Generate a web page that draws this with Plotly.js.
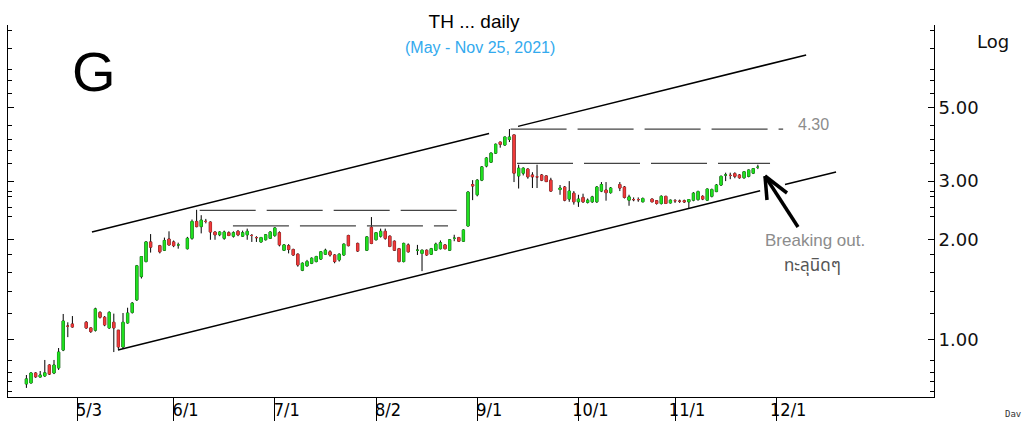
<!DOCTYPE html>
<html>
<head>
<meta charset="utf-8">
<script src="https://cdn.plot.ly/plotly-3.0.1.min.js"></script>
<style>html,body{margin:0;padding:0;background:#fff;}#chart{width:1030px;height:421px;}</style>
</head>
<body>
<div id="chart"></div>
<script>
// Trading days (2021, month-day)
const days = [
 '04-16','04-19','04-20','04-21','04-22','04-23','04-26','04-27','04-28','04-29','04-30',
 '05-05','05-06','05-07','05-10','05-11','05-12','05-13','05-14','05-17','05-18','05-19','05-20','05-21','05-24','05-25','05-27','05-28','05-31',
 '06-01','06-02','06-04','06-07','06-08','06-09','06-10','06-11','06-14','06-15','06-16','06-17','06-18','06-21','06-22','06-23','06-24','06-25','06-28','06-29','06-30',
 '07-01','07-02','07-05','07-06','07-07','07-08','07-09','07-12','07-13','07-14','07-15','07-16','07-19','07-20','07-21','07-22','07-23','07-27','07-29','07-30',
 '08-02','08-03','08-04','08-05','08-06','08-09','08-10','08-11','08-13','08-16','08-17','08-18','08-19','08-20','08-23','08-24','08-25','08-26','08-27','08-30','08-31',
 '09-01','09-02','09-03','09-06','09-07','09-08','09-09','09-10','09-13','09-14','09-15','09-16','09-17','09-20','09-21','09-22','09-23','09-27','09-28','09-29','09-30',
 '10-01','10-04','10-05','10-06','10-07','10-08','10-11','10-12','10-14','10-15','10-18','10-19','10-20','10-21','10-25','10-26','10-27','10-28','10-29',
 '11-01','11-02','11-03','11-04','11-05','11-08','11-09','11-10','11-11','11-12','11-15','11-16','11-17','11-18','11-19','11-22','11-23','11-24','11-25'
];
const openP = [
 .738,.743,.796,.774,.780,.841,.796,.824,.933,1.10,1.117,
 1.13,1.087,1.07,1.21,1.17,1.087,1.13,1.07,0.953,1.125,1.21,1.32,1.55,1.72,1.97,1.92,1.86,2.01,
 1.97,1.93,1.88,2.02,2.27,2.19,2.27,2.26,2.11,2.07,2.02,2.10,2.05,2.12,2.05,2.07,2.06,2.03,1.97,2.00,2.02,
 2.06,2.10,1.86,1.92,1.87,1.81,1.62,1.67,1.70,1.72,1.75,1.81,1.84,1.80,1.74,1.80,2.06,1.95,1.86,2.18,
 2.00,2.05,2.12,2.05,1.98,1.88,1.72,1.93,1.86,1.82,1.86,1.81,1.86,1.88,1.93,1.86,2.02,2.03,1.98,2.20,2.93,
 2.73,3.02,3.33,3.42,3.64,3.93,3.85,4.00,4.13,3.11,3.17,3.26,3.13,3.09,3.13,3.11,3.02,2.83,2.88,2.65,2.76,
 2.60,2.68,2.59,2.60,2.60,2.80,2.82,2.77,2.93,2.88,2.63,2.64,2.64,2.60,2.65,2.62,2.57,2.70,2.58,
 2.62,2.61,2.62,2.60,2.63,2.64,2.70,2.63,2.70,2.79,2.92,3.13,3.12,3.16,3.13,3.07,3.10,3.17,3.30
];
const highP = [
 .785,.800,.800,.807,.871,.845,.871,.946,1.197,1.13,1.18,
 1.14,1.09,1.25,1.22,1.18,1.22,1.20,1.07,1.205,1.25,1.30,1.68,1.78,1.98,2.08,1.93,2.03,2.12,
 1.99,1.96,2.04,2.30,2.46,2.37,2.31,2.27,2.12,2.12,2.13,2.12,2.12,2.14,2.13,2.16,2.08,2.05,2.04,2.08,2.12,
 2.18,2.12,1.94,1.94,1.88,1.82,1.71,1.74,1.77,1.79,1.85,1.88,1.86,1.81,1.82,1.95,2.07,1.96,2.05,2.34,
 2.11,2.16,2.16,2.06,1.99,1.89,1.96,1.95,1.93,1.87,1.87,1.89,1.96,1.99,1.94,2.01,2.07,2.04,2.15,2.80,3.02,
 3.04,3.33,3.54,3.66,3.89,3.94,4.08,4.30,4.13,3.36,3.30,3.28,3.19,3.36,3.15,3.12,3.07,2.92,2.90,3.00,2.80,
 2.73,2.75,2.66,2.71,2.90,2.98,2.98,2.88,2.98,2.90,2.73,2.68,2.68,2.68,2.66,2.63,2.72,2.71,2.64,
 2.65,2.64,2.64,2.65,2.78,2.81,2.72,2.85,2.85,2.94,3.12,3.18,3.18,3.19,3.15,3.21,3.25,3.28,3.36
];
const lowP = [
 .718,.740,.770,.772,.775,.785,.790,.813,.926,1.02,1.09,
 1.08,1.05,1.06,1.16,1.10,1.08,0.92,0.94,0.94,1.12,1.20,1.31,1.53,1.71,1.83,1.82,1.85,1.92,
 1.90,1.88,1.87,2.00,2.18,2.09,2.24,2.00,2.00,2.05,2.00,2.05,2.03,2.05,2.04,2.00,1.97,1.97,1.96,1.99,2.01,
 2.04,1.91,1.85,1.82,1.79,1.66,1.61,1.66,1.69,1.71,1.74,1.80,1.78,1.70,1.72,1.79,1.91,1.84,1.85,1.94,
 1.99,2.03,2.00,1.90,1.85,1.71,1.71,1.83,1.80,1.61,1.79,1.80,1.85,1.87,1.87,1.85,1.98,1.97,1.97,2.19,2.63,
 2.70,3.00,3.30,3.40,3.62,3.78,3.83,3.93,2.98,2.85,3.12,3.05,2.86,2.86,3.00,2.98,2.79,2.73,2.61,2.60,2.55,
 2.51,2.58,2.57,2.58,2.58,2.78,2.62,2.75,2.80,2.66,2.53,2.61,2.60,2.59,2.59,2.55,2.55,2.56,2.57,
 2.58,2.58,2.58,2.49,2.61,2.62,2.63,2.62,2.68,2.78,2.90,3.00,3.04,3.06,3.05,3.05,3.08,3.15,3.26
];
const closeP = [
 .764,.796,.775,.785,.797,.790,.841,.920,1.14,1.10,1.094,
 1.087,1.06,1.24,1.17,1.11,1.21,1.087,0.953,1.13,1.205,1.29,1.67,1.78,1.97,1.90,1.84,1.99,1.93,
 1.92,1.93,2.02,2.27,2.19,2.29,2.27,2.11,2.07,2.11,2.11,2.06,2.10,2.07,2.10,2.12,2.06,2.03,2.03,2.07,2.11,
 2.17,1.93,1.93,1.87,1.80,1.68,1.70,1.72,1.76,1.78,1.84,1.86,1.80,1.72,1.81,1.94,1.92,1.85,2.04,1.95,
 2.10,2.12,2.02,1.91,1.86,1.72,1.95,1.84,1.86,1.86,1.80,1.88,1.94,1.96,1.88,2.00,2.02,1.98,2.14,2.78,2.90,
 3.02,3.31,3.52,3.64,3.87,3.87,4.07,4.07,3.17,3.28,3.28,3.09,3.09,3.09,3.02,2.99,2.80,2.86,2.63,2.80,2.60,
 2.65,2.60,2.63,2.69,2.88,2.93,2.77,2.86,2.86,2.68,2.69,2.64,2.64,2.66,2.60,2.57,2.70,2.57,2.63,
 2.62,2.61,2.60,2.64,2.76,2.79,2.65,2.84,2.83,2.92,3.10,3.13,3.12,3.10,3.07,3.20,3.24,3.27,3.30
];
const dates = days.map(d => '2021-' + d);

// Axis ticks
const xTickVals = ['2021-05-03','2021-06-01','2021-07-01','2021-08-02','2021-09-01','2021-10-01','2021-11-01','2021-12-01'];
const xTickText = ['5/3','6/1','7/1','8/2','9/1','10/1','11/1','12/1'];
const yTickVals = [1, 2, 3, 5];
const yTickText = ['1.00','2.00','3.00','5.00'];
const yMinorVals = [0.7,0.75,0.8,0.87,1.2,1.4,1.6,1.8,2.35,2.5,2.7,2.8,3.4,3.7,4.0,4.4,5.5,6.0,6.5,7.5,8.5];

// Drawn trend lines (date, price)
const upperTrendA = {x:['2021-05-06 06:00','2021-09-03 13:40'], y:[2.11, 4.17]};
const upperTrendB = {x:['2021-09-13 20:50','2021-12-09 12:00'], y:[4.38, 7.18]};
const lowerTrendA = {x:['2021-05-13 21:30','2021-11-25 12:00'], y:[0.933, 2.805]};
const lowerTrendB = {x:['2021-12-02 21:30','2021-12-20 00:00'], y:[2.93, 3.195]};
// Horizontal dashed levels
const levels = [
  {x0:'2021-09-10 06:00', x1:'2021-12-02 12:00', y:4.30},
  {x0:'2021-09-13 15:30', x1:'2021-11-29 15:30', y:3.39},
  {x0:'2021-06-08 16:00', x1:'2021-08-26 12:00', y:2.45},
  {x0:'2021-06-17 21:30', x1:'2021-08-23 15:30', y:2.20}
];

// wicks: black candlestick; bodies: coloured candlestick without wicks
const bodyTop = openP.map((o, i) => Math.max(o, closeP[i]));
const bodyBot = openP.map((o, i) => Math.min(o, closeP[i]));

const wickTrace = {
  type:'candlestick', x:dates, open:openP, high:highP, low:lowP, close:closeP,
  increasing:{line:{color:'#000', width:1}, fillcolor:'#000'},
  decreasing:{line:{color:'#000', width:1}, fillcolor:'#000'},
  whiskerwidth:0, hoverinfo:'skip', showlegend:false
};
const bodyTrace = {
  type:'candlestick', x:dates, open:openP, high:bodyTop, low:bodyBot, close:closeP,
  increasing:{line:{color:'#20e020', width:0.6}, fillcolor:'#20e020'},
  decreasing:{line:{color:'#f03a3a', width:0.6}, fillcolor:'#f03a3a'},
  whiskerwidth:0, hoverinfo:'skip', showlegend:false
};

const shapes = [];
[upperTrendA, upperTrendB, lowerTrendA, lowerTrendB].forEach(t => {
  shapes.push({type:'line', xref:'x', yref:'y', x0:t.x[0], x1:t.x[1], y0:t.y[0], y1:t.y[1],
    line:{color:'#000', width:1.5}});
});
levels.forEach(l => {
  shapes.push({type:'line', xref:'x', yref:'y', x0:l.x0, x1:l.x1, y0:l.y, y1:l.y,
    line:{color:'#444', width:1.2, dash:'56px,11px'}});
});
// Arrow (paper coords)
const P = (px, py) => [(px - 8) / 926, (397 - py) / 372];
const head = P(765,176), tail = P(798,227), arm1 = P(767,200), arm2 = P(787,193);
[[tail, head],[head, arm1],[head, arm2]].forEach(s => {
  shapes.push({type:'line', xref:'paper', yref:'paper', x0:s[0][0], y0:s[0][1], x1:s[1][0], y1:s[1][1],
    line:{color:'#000', width:3.5}});
});

const ann = (px, py, text, font) => {
  const p = P(px, py);
  return {xref:'paper', yref:'paper', x:p[0], y:p[1], text:text, showarrow:false,
    xanchor:'center', yanchor:'middle', font:font};
};
const annotations = [
  ann(480, 47.5, '(May - Nov 25, 2021)', {family:'Liberation Sans, Arial, sans-serif', size:16, color:'#33aaee'}),
  ann(94, 71, 'G', {family:'Liberation Sans, Arial, sans-serif', size:56, color:'#000'}),
  ann(993, 42, 'Log', {family:'DejaVu Sans, sans-serif', size:18, color:'#111'}),
  ann(813, 124, '4.30', {family:'Liberation Sans, Arial, sans-serif', size:16, color:'#8c8c8c'}),
  ann(815, 241, 'Breaking out.', {family:'Liberation Sans, Arial, sans-serif', size:17, color:'#8c8c8c'}),
  ann(812, 266, 'ทะลุนิดๆ', {family:'Noto Sans Thai, Noto Sans, DejaVu Sans, sans-serif', size:17, color:'#555'}),
  ann(1013, 414, 'Dav', {family:'DejaVu Sans Mono, monospace', size:9, color:'#333'})
];

const layout = {
  width:1030, height:421,
  margin:{l:8, r:96, t:25, b:24},
  paper_bgcolor:'#fff', plot_bgcolor:'#fff',
  title:{text:'TH ... daily', x:474/1030, xanchor:'center', y:1-21/421, yanchor:'middle',
    font:{family:'Liberation Sans, Arial, sans-serif', size:19, color:'#000'}},
  xaxis:{
    type:'date', range:['2021-04-12','2022-01-18 07:00'],
    rangebreaks:[{bounds:['sat','mon']}],
    rangeslider:{visible:false},
    tickmode:'array', tickvals:xTickVals, ticktext:xTickText,
    ticks:'outside', ticklen:24, tickwidth:1, tickcolor:'#000',
    ticklabelshift:12, ticklabelstandoff:-28,
    tickfont:{family:'Liberation Sans Narrow, DejaVu Sans Condensed, Arial Narrow, sans-serif', size:18, color:'#000'},
    showline:true, linecolor:'#000', linewidth:1, mirror:false,
    showgrid:false, zeroline:false, fixedrange:true
  },
  yaxis:{
    type:'log', side:'right', range:[-0.1712, 0.9459],
    tickmode:'array', tickvals:yTickVals, ticktext:yTickText,
    ticks:'inside', ticklen:6, tickcolor:'#000',
    minor:{tickmode:'array', tickvals:yMinorVals, ticks:'inside', ticklen:4, tickcolor:'#000'},
    tickfont:{family:'DejaVu Sans, sans-serif', size:18, color:'#111'},
    showline:true, linecolor:'#000', linewidth:1, mirror:'ticks',
    showgrid:false, zeroline:false, fixedrange:true
  },
  shapes:shapes,
  annotations:annotations,
  showlegend:false
};

Plotly.newPlot('chart', [wickTrace, bodyTrace], layout, {displayModeBar:false, staticPlot:true});
</script>
</body>
</html>
